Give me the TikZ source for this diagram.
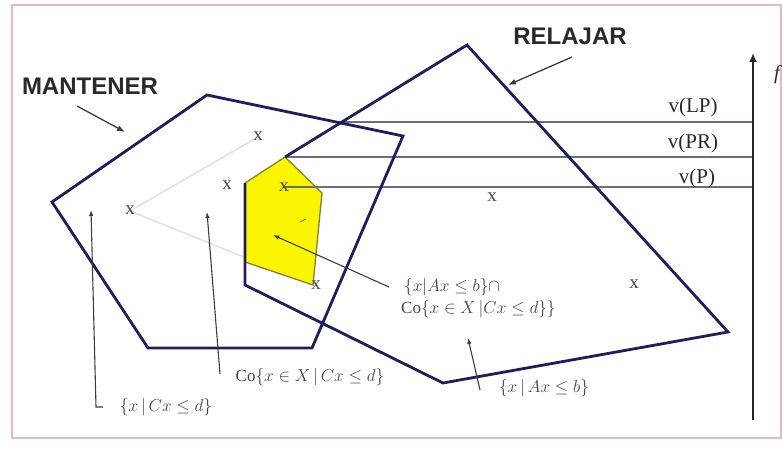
\documentclass[tikz,border=0pt]{standalone}
\usepackage{fontspec}
\setmainfont{Liberation Serif}
\newfontfamily\sansf{Liberation Sans}
\usetikzlibrary{arrows.meta}
\definecolor{navy}{RGB}{30,30,95}
\definecolor{lvlgray}{RGB}{105,110,125}
\definecolor{conngray}{RGB}{60,60,60}
\definecolor{lblgray}{RGB}{70,70,70}
\definecolor{bigtext}{RGB}{40,40,45}
\definecolor{yfill}{RGB}{250,245,0}
\definecolor{yline}{RGB}{130,130,50}
\definecolor{faintgray}{RGB}{225,225,225}
\definecolor{framepink}{RGB}{232,185,185}
\begin{document}
\begin{tikzpicture}[x=1pt,y=-1pt,
  poly/.style={draw=navy, line width=2.8pt, line join=miter},
  lvl/.style={draw=lvlgray, line width=1.8pt},
  conn/.style={draw=conngray, line width=1.1pt, -{Latex[length=6pt,width=4.5pt]}},
  tconn/.style={draw=conngray, line width=1.3pt, -{Latex[length=8pt,width=6pt]}},
  lbl/.style={text=lblgray, font=\fontsize{17}{19}\selectfont, inner sep=0pt},
  xmark/.style={text=lblgray, font=\fontsize{19}{19}\selectfont, inner sep=0pt},
  big/.style={text=bigtext, font=\sansf\bfseries\fontsize{24}{24}\selectfont, inner sep=0pt},
  vlab/.style={text=bigtext, font=\fontsize{21}{21}\selectfont, inner sep=0pt},
  faint/.style={draw=faintgray, line width=1.5pt}]
\useasboundingbox (0,0) rectangle (782,452);
\clip (0,0) rectangle (782,452);
\fill[white] (0,0) rectangle (782,452);
\draw[framepink, line width=1.5pt] (12,5) rectangle (781,438);
% faint hull lines
\draw[faint] (258,137) -- (130,211) -- (313,285);
% yellow region
\filldraw[fill=yfill, draw=yline, line width=1.3pt] (245,183) -- (285,157) -- (322,193) -- (313,285) -- (245,262) -- cycle;
\draw[yline, line width=1pt] (300,222) -- (306,219);
% level lines
\coordinate (lp0) at (341,122);
\coordinate (pr0) at (285,157);
\coordinate (p0) at (283,187);
\coordinate (lp1) at (753,122);
\coordinate (pr1) at (753,157);
\coordinate (p1) at (753,187);
\draw[lvl] (lp0) -- (lp1);
\draw[lvl] (pr0) -- (pr1);
\draw[lvl] (p0) -- (p1);
% polygons
\draw[poly] (52,202) -- (207,95) -- (403,136) -- (312,348) -- (148,348) -- cycle;
\draw[poly] (285,157) -- (467,45) -- (728,332) -- (443,383) -- (245,285) -- (245,183);
% axis
\coordinate (axb) at (753,420);
\coordinate (axt) at (753,53);
\draw[draw=bigtext, line width=1.8pt, -{Latex[length=9pt,width=8pt]}] (axb) -- (axt);
\node[text=bigtext, font=\itshape\fontsize{20}{20}\selectfont, inner sep=0pt] (f) at (777,75) {f};
% value labels
\node[vlab] (vlp) at (693,107) {v(LP)};
\node[vlab] (vpr) at (693,143) {v(PR)};
\node[vlab] (vp) at (697,178) {v(P)};
% x marks
\node[xmark] (x1) at (258,136) {x};
\node[xmark] (x2) at (227,185) {x};
\node[xmark] (x3) at (130,210) {x};
\node[xmark] (x4) at (284,187) {x};
\node[xmark] (x5) at (316,285) {x};
\node[xmark] (x6) at (492,197) {x};
\node[xmark] (x7) at (634,284) {x};
% titles
\node[big] (mant) at (90,86) {MANTENER};
\node[big] (rel) at (570,36) {RELAJAR};
\coordinate (ma0) at (77,106);
\coordinate (ma1) at (125,132);
\draw[tconn] (ma0) -- (ma1);
\coordinate (ra0) at (572,57);
\coordinate (ra1) at (508,85);
\draw[tconn] (ra0) -- (ra1);
% set labels
\node[lbl] (lc) at (166,407) {$\{x\,|\,Cx\le d\}$};
\node[lbl] (lco) at (310,377) {$\mathrm{Co}\{x\in X\,|\,Cx\le d\}$};
\node[lbl, anchor=west] (li1) at (404,287) {$\{x|Ax\le b\}\cap$};
\node[lbl, anchor=west] (li2) at (401,309) {$\mathrm{Co}\{x\in X\,|Cx\le d\}\}$};
\node[lbl] (la) at (544,388) {$\{x\,|\,Ax\le b\}$};
% connectors
\coordinate (c1) at (103,407);
\coordinate (k1) at (96,407);
\coordinate (t1) at (91,210);
\draw[conn] (c1) -- (k1) -- (t1);
\coordinate (c2) at (220,374);
\coordinate (t2) at (207,212);
\draw[conn] (c2) -- (t2);
\coordinate (c3) at (389,287);
\coordinate (t3) at (273,235);
\draw[conn] (c3) -- (t3);
\coordinate (c4) at (480,390);
\coordinate (t4) at (468,338);
\draw[conn] (c4) -- (t4);
\end{tikzpicture}
\end{document}
